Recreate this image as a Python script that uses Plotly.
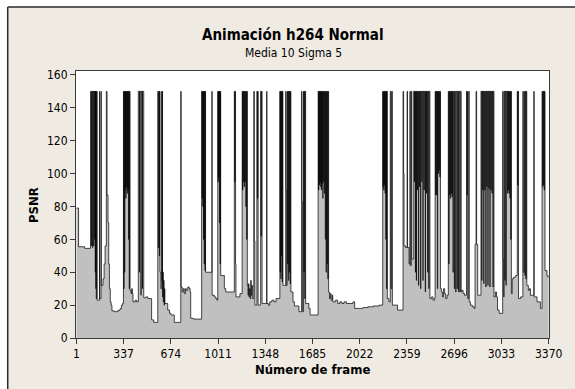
import plotly.graph_objects as go

# Frame numbers where the PSNR value changes, and the PSNR (dB) from that frame on.
# Lossless frames give infinite PSNR, stored as the cap of 150 dB.
frames = [
    1, 16, 59,
    101, 108, 109, 116, 117, 124, 125,
    131, 132, 135, 136, 139, 140, 142, 146, 148,
    165, 167, 176, 178, 190, 198, 205,
    214, 219, 226, 231, 236, 242, 248, 254, 270, 290, 305, 313, 322, 330,
    336, 338, 341, 343, 346, 348, 350, 352, 355, 357, 360, 362, 365, 367, 370, 372, 375, 377, 380, 383,
    390, 395, 400, 404, 420, 430,
    442, 450, 451, 461, 462, 471, 472, 481,
    496, 510, 537, 553,
    581, 585, 588, 592, 594, 597, 603,
    609, 611, 613, 615, 618, 620, 623, 626, 629, 632,
    652, 665, 675, 699,
    745, 748, 755, 762, 770, 778, 785, 795, 805, 812,
    816, 835,
    894, 897, 899, 902, 904, 907, 909, 912, 914, 918, 920, 922,
    967, 969, 985, 995, 1003,
    1009, 1011, 1013, 1016, 1018, 1021, 1023, 1026, 1028, 1030,
    1056, 1066,
    1127, 1130, 1133, 1136, 1139, 1167,
    1183, 1186, 1188, 1191, 1194, 1197, 1200, 1203, 1206, 1209, 1212, 1215, 1217, 1220,
    1225, 1228, 1232, 1236, 1240, 1244, 1248, 1252, 1256,
    1266, 1270, 1274, 1288, 1292, 1295, 1297,
    1315, 1318, 1322, 1325,
    1358, 1360, 1370, 1380, 1395, 1410, 1425,
    1452, 1454, 1456, 1459, 1461, 1464, 1466, 1469, 1471, 1474,
    1494, 1496, 1498,
    1504, 1507, 1510, 1513, 1516, 1519, 1522, 1525, 1528, 1531,
    1546, 1556, 1588,
    1607, 1610, 1613, 1621, 1624, 1626, 1630, 1632, 1636,
    1659, 1668,
    1725, 1728, 1730, 1733, 1735, 1738, 1740, 1743, 1745, 1748, 1750, 1753, 1755, 1758,
    1761, 1764, 1767, 1770, 1773, 1776, 1779, 1782, 1785, 1788, 1791, 1794, 1797, 1800,
    1806, 1812, 1818, 1825, 1830, 1850, 1865, 1880, 1895, 1910, 1927, 1974, 1986,
    2045, 2080, 2120, 2160,
    2186, 2188, 2190, 2193, 2195, 2198, 2200, 2203, 2205, 2208, 2210, 2213, 2216, 2219,
    2230, 2240, 2245, 2250, 2255, 2292,
    2331, 2335, 2338, 2350, 2360, 2363, 2374,
    2380, 2383, 2390, 2394,
    2407, 2412, 2413, 2419, 2420, 2426, 2427, 2433, 2434, 2441, 2443, 2449, 2450, 2456,
    2458, 2465, 2466, 2473, 2474, 2481, 2483, 2490, 2491, 2498, 2499, 2506, 2508, 2515,
    2516, 2523,
    2535, 2545, 2555,
    2560, 2563, 2566, 2569, 2572, 2576, 2578, 2581, 2584, 2587, 2590, 2593, 2596, 2598,
    2605, 2612, 2620, 2628, 2636, 2645,
    2654, 2657, 2660, 2663, 2666, 2669, 2672, 2675, 2678, 2681, 2684, 2687,
    2690, 2697, 2699, 2707, 2709, 2717, 2719, 2727, 2729, 2737, 2739, 2746,
    2750, 2760, 2770,
    2784, 2787, 2790, 2793,
    2800, 2803, 2812, 2825, 2838, 2845, 2852, 2856, 2864,
    2887, 2893, 2894, 2900, 2901, 2907, 2908, 2914, 2916, 2922, 2923, 2929, 2930, 2936,
    2938, 2944, 2945, 2951, 2952, 2958, 2960, 2966, 2967, 2973, 2974, 2980,
    2990, 2998, 3005, 3017,
    3042, 3045, 3049,
    3052, 3058, 3059, 3066, 3067, 3076, 3078, 3081, 3084, 3087, 3090, 3093,
    3096, 3099, 3102, 3104,
    3110, 3120, 3135,
    3146, 3149, 3152, 3155, 3170, 3186, 3189,
    3196, 3200, 3203, 3207, 3210, 3214,
    3225, 3233, 3240, 3264, 3267, 3287, 3311,
    3323, 3326, 3329, 3332, 3335, 3338, 3341, 3344,
    3358, 3365, 3370,
]

psnr = [
    79, 55.5, 54.5,
    150, 56, 150, 55, 150, 56, 150,
    60, 150, 40, 150, 30, 150, 24, 150, 23,
    150, 24, 150, 32, 36, 45, 56,
    150, 87, 70, 45, 30, 22, 20, 16.5, 16, 16.5, 17, 18, 20, 21,
    150, 30, 150, 40, 150, 90, 150, 85, 150, 92, 150, 88, 150, 90, 150, 60, 150, 30, 150, 29,
    27, 30, 27, 22, 23, 22,
    150, 40, 150, 26, 150, 30, 150, 24.5,
    25, 24, 11, 9.5,
    150, 55, 150, 50, 150, 40, 30,
    150, 35, 150, 25, 40, 22, 35, 20, 30, 21,
    17, 15, 14, 9.5,
    150, 31, 28, 30, 27, 30, 29, 31, 30, 28,
    12, 11.5,
    150, 85, 150, 80, 150, 60, 150, 45, 150, 41, 150, 40,
    150, 26, 25, 24, 23,
    150, 95, 150, 98, 150, 70, 150, 45, 150, 38,
    30, 28,
    150, 95, 150, 45, 25, 27,
    150, 90, 150, 95, 150, 92, 150, 95, 150, 80, 150, 60, 150, 32,
    26, 33, 25, 30, 24, 35, 26, 32, 24,
    150, 59, 20, 150, 85, 150, 20,
    150, 62, 150, 21,
    150, 21, 20, 22, 23, 22, 24,
    150, 40, 150, 36, 150, 50, 150, 34, 150, 32,
    150, 90, 32,
    150, 45, 150, 35, 150, 40, 150, 33, 150, 28,
    22, 19.5, 16,
    150, 83, 16, 150, 40, 150, 24, 150, 21,
    18, 14,
    150, 90, 150, 93, 150, 95, 150, 92, 150, 90, 150, 94, 150, 85,
    150, 95, 150, 88, 150, 60, 150, 40, 150, 45, 150, 36, 150, 28,
    24, 27, 23, 26, 22, 23, 21, 22, 21, 22, 21, 22, 18,
    18.5, 19, 19.5, 20,
    150, 92, 150, 90, 150, 93, 150, 88, 150, 60, 150, 30, 150, 24,
    22, 150, 30, 150, 20, 17,
    150, 100, 56, 55, 150, 55, 45,
    150, 44, 150, 48,
    150, 95, 150, 40, 150, 35, 150, 90, 150, 32, 150, 92, 150, 30,
    150, 95, 150, 35, 150, 90, 150, 28, 150, 88, 150, 40, 150, 30,
    150, 24,
    25, 23, 24,
    150, 87, 150, 87, 150, 30, 150, 100, 150, 102, 150, 98, 150, 30,
    28, 25, 30, 27, 24, 26,
    150, 45, 150, 87, 150, 85, 150, 88, 150, 86, 150, 40,
    150, 30, 150, 28, 150, 30, 150, 28, 150, 28, 150, 28,
    29, 27, 26,
    150, 87, 150, 24,
    150, 22, 20, 19, 18, 57, 150, 57, 26,
    150, 35, 150, 90, 150, 33, 150, 90, 150, 31, 150, 92, 150, 32,
    150, 91, 150, 31, 150, 90, 150, 88, 150, 31, 150, 25,
    28, 25, 17, 15,
    150, 48, 25,
    150, 35, 150, 32, 150, 88, 150, 90, 150, 88, 150, 85,
    150, 60, 150, 27,
    36, 37, 38,
    150, 93, 150, 24, 25, 150, 40,
    150, 38, 150, 36, 150, 32,
    29, 30, 26, 150, 25, 22, 18,
    150, 92, 150, 93, 150, 90, 150, 41,
    38, 37, 37,
]

x_ticks = [1, 337, 674, 1011, 1348, 1685, 2022, 2359, 2696, 3033, 3370]
y_ticks = [0, 20, 40, 60, 80, 100, 120, 140, 160]

title = "Animación h264 Normal"
subtitle = "Media 10 Sigma 5"
x_title = "Número de frame"
y_title = "PSNR"

FONT = "DejaVu Sans Condensed, DejaVu Sans, sans-serif"
BEIGE = "#efebe2"

fig = go.Figure()
fig.add_trace(go.Scatter(
    x=frames, y=psnr, mode="lines",
    line=dict(color="black", width=0.7, shape="hv"),
    fill="tozeroy", fillcolor="#c0c0c0",
    hoverinfo="x+y", showlegend=False,
))

axis_common = dict(
    showgrid=False, zeroline=False, showline=True, mirror=True,
    linecolor="#3a3a3a", linewidth=1,
    ticks="outside", ticklen=5, tickwidth=1, tickcolor="#3a3a3a",
    tickfont=dict(family=FONT, size=12, color="black"),
)

frame_x = (7 - 76) / 478   # left edge of the graph window, in paper units
frame_y = (338 - 7) / 267  # top edge of the graph window, in paper units

fig.update_layout(
    width=575, height=389,
    margin=dict(l=76, r=21, t=71, b=51),
    paper_bgcolor=BEIGE,
    plot_bgcolor="white",
    xaxis=dict(range=[-2.5, 3372.5], tickmode="array", tickvals=x_ticks,
               ticktext=[str(v) for v in x_ticks], **axis_common),
    yaxis=dict(range=[0, 162.4], tickmode="array", tickvals=y_ticks,
               ticktext=[str(v) for v in y_ticks], **axis_common),
    shapes=[
        # white margin outside the graph window, then its dark frame
        dict(type="rect", xref="paper", yref="paper",
             x0=-1, x1=frame_x, y0=-1, y1=2,
             fillcolor="white", line=dict(width=0), layer="below"),
        dict(type="rect", xref="paper", yref="paper",
             x0=-1, x1=2, y0=frame_y, y1=2,
             fillcolor="white", line=dict(width=0), layer="below"),
        dict(type="line", xref="paper", yref="paper",
             x0=frame_x, x1=frame_x, y0=-1, y1=frame_y,
             line=dict(color="#2a2a2a", width=1.5), layer="below"),
        dict(type="line", xref="paper", yref="paper",
             x0=frame_x, x1=2, y0=frame_y, y1=frame_y,
             line=dict(color="#2a2a2a", width=1.5), layer="below"),
    ],
    annotations=[
        dict(text=f"<b>{title}</b>", xref="paper", yref="paper",
             x=(295 - 76) / 478, y=(338 - 35) / 267, xanchor="center", yanchor="middle",
             showarrow=False, font=dict(family=FONT, size=15, color="black")),
        dict(text=subtitle, xref="paper", yref="paper",
             x=(296 - 76) / 478, y=(338 - 53) / 267, xanchor="center", yanchor="middle",
             showarrow=False, font=dict(family=FONT, size=12, color="black")),
        dict(text=f"<b>{x_title}</b>", xref="paper", yref="paper",
             x=0.5, y=(338 - 369) / 267, xanchor="center", yanchor="middle",
             showarrow=False, font=dict(family=FONT, size=13, color="black")),
        dict(text=f"<b>{y_title}</b>", xref="paper", yref="paper",
             x=(33 - 76) / 478, y=0.5, xanchor="center", yanchor="middle", textangle=-90,
             showarrow=False, font=dict(family=FONT, size=13, color="black")),
    ],
)

fig.write_html("out.html")
